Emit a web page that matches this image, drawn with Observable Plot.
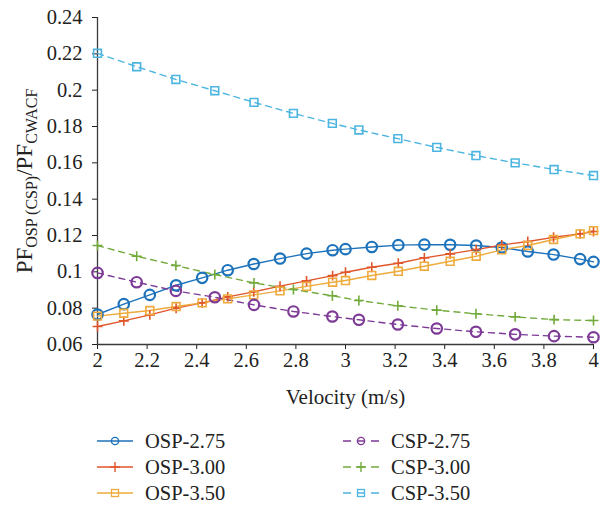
<!DOCTYPE html>
<html><head><meta charset="utf-8">
<script src="https://cdn.jsdelivr.net/npm/d3@7"></script>
<script src="https://cdn.jsdelivr.net/npm/@observablehq/plot@0.6"></script>
<style>
body{margin:0;background:#fff;font-family:"Liberation Serif",serif;color:#222;}
#chart{position:relative;width:600px;height:507px;overflow:hidden;}
.leg{position:absolute;height:26px;display:flex;align-items:center;font-size:20.5px;white-space:nowrap;}
.leg svg{margin-right:12px;}
</style></head><body><div id="chart"></div><script>
// ---- data ----
const xTicks = [2, 2.2, 2.4, 2.6, 2.8, 3, 3.2, 3.4, 3.6, 3.8, 4];
const xTickLabels = ["2", "2.2", "2.4", "2.6", "2.8", "3", "3.2", "3.4", "3.6", "3.8", "4"];
const yTicks = [0.06, 0.08, 0.1, 0.12, 0.14, 0.16, 0.18, 0.2, 0.22, 0.24];
const yTickLabels = ["0.06", "0.08", "0.1", "0.12", "0.14", "0.16", "0.18", "0.2", "0.22", "0.24"];

const ospVelocity = [2, 2.106, 2.211, 2.317, 2.422, 2.525, 2.63, 2.736, 2.843, 2.948, 3, 3.106, 3.213, 3.318, 3.422, 3.527, 3.63, 3.735, 3.839, 3.946, 4];
const osp275 = [0.0765, 0.0822, 0.0873, 0.0926, 0.0967, 0.1009, 0.1043, 0.1073, 0.1100, 0.1119, 0.1125, 0.1137, 0.1147, 0.1150, 0.1149, 0.1145, 0.1134, 0.1112, 0.1095, 0.1070, 0.1055];
const osp300 = [0.0699, 0.0730, 0.0763, 0.0800, 0.0829, 0.0862, 0.0890, 0.0921, 0.0950, 0.0979, 0.0998, 0.1025, 0.1047, 0.1077, 0.1099, 0.1122, 0.1148, 0.1167, 0.1190, 0.1209, 0.1222];
const osp350 = [0.0756, 0.0772, 0.0787, 0.0809, 0.0829, 0.0851, 0.0873, 0.0895, 0.0920, 0.0943, 0.0952, 0.0980, 0.1003, 0.1031, 0.1058, 0.1086, 0.1121, 0.1145, 0.1178, 0.1209, 0.1227];

const cspVelocity = [2, 2.158, 2.316, 2.473, 2.631, 2.79, 2.947, 3.054, 3.211, 3.368, 3.526, 3.684, 3.841, 4];
const csp275 = [0.0994, 0.0943, 0.0895, 0.0860, 0.0818, 0.0782, 0.0754, 0.0736, 0.0710, 0.0688, 0.0670, 0.0656, 0.0646, 0.0640];
const csp300 = [0.1145, 0.1086, 0.1035, 0.0985, 0.0939, 0.0903, 0.0868, 0.0842, 0.0813, 0.0789, 0.0769, 0.0752, 0.0737, 0.0732];
const csp350 = [0.2203, 0.2129, 0.2059, 0.1997, 0.1933, 0.1872, 0.1817, 0.1781, 0.1733, 0.1685, 0.1640, 0.1600, 0.1563, 0.1530];

const seriesNames = ["OSP-2.75", "OSP-3.00", "OSP-3.50", "CSP-2.75", "CSP-3.00", "CSP-3.50"];
const seriesColors = ["#1c72bb", "#e0562a", "#eeaa3c", "#7d3a96", "#72ab3c", "#4cb5e0"];
const seriesSymbols = ["circle", "plus", "square", "circle", "plus", "square"];
const seriesDashed = [false, false, false, true, true, true];

// ---- build table ----
const seriesX = [ospVelocity, ospVelocity, ospVelocity, cspVelocity, cspVelocity, cspVelocity];
const seriesY = [osp275, osp300, osp350, csp275, csp300, csp350];
const rows = [];
seriesNames.forEach((name, s) => seriesX[s].forEach((v, i) => rows.push({series: name, s, v, pf: seriesY[s][i]})));

const symR = {circle: 5.2, plus: 3.3, square: 4.4};
const symW = {circle: 2.2, plus: 1.6, square: 1.6};
const FONT = "'Liberation Serif', serif";

const marks = [
  Plot.ruleX([2], {stroke: "#3a3a3a", strokeWidth: 1.3}),
  Plot.ruleY([0.06], {stroke: "#3a3a3a", strokeWidth: 1.3}),
  Plot.text(xTicks, {x: d => d, frameAnchor: "bottom", dy: 22, text: (d, i) => xTickLabels[i], fill: "#222", fontSize: 20.5, fontFamily: FONT}),
  Plot.text(yTicks, {y: d => d, frameAnchor: "left", dx: -15, textAnchor: "end", text: (d, i) => yTickLabels[i], fill: "#222", fontSize: 20.5, fontFamily: FONT})
];
seriesNames.forEach((name, s) => {
  const d = rows.filter(r => r.s === s);
  marks.push(Plot.line(d, {x: "v", y: "pf", stroke: seriesColors[s], strokeWidth: 1.4, strokeDasharray: seriesDashed[s] ? "6,5" : null}));
});
seriesNames.forEach((name, s) => {
  const d = rows.filter(r => r.s === s);
  const sym = seriesSymbols[s];
  marks.push(Plot.dot(d, {x: "v", y: "pf", symbol: () => sym, r: symR[sym], stroke: seriesColors[s], strokeWidth: symW[sym], fill: "none"}));
});
marks.push(Plot.text(["Velocity (m/s)"], {frameAnchor: "bottom", dy: 59, fill: "#222", fontSize: 21, fontFamily: FONT}));

const plot = Plot.plot({
  width: 600, height: 420,
  marginLeft: 97, marginRight: 7, marginTop: 17, marginBottom: 76,
  style: {background: "white", color: "#222", overflow: "visible", fontFamily: FONT, fontSize: "21px"},
  x: {domain: [2, 4], ticks: xTicks, tickFormat: () => "", tickSize: 5, label: null},
  y: {domain: [0.06, 0.24], ticks: yTicks, tickFormat: () => "", tickSize: 5, label: null},
  symbol: {type: "identity"},
  marks
});

const svg = d3.select(plot);

// y-axis label with subscripts
const t = svg.append("text")
  .attr("transform", "translate(32,181) rotate(-90)")
  .attr("text-anchor", "middle")
  .attr("fill", "#222")
  .style("font-family", FONT)
  .style("font-size", "23px");
t.append("tspan").text("PF");
t.append("tspan").attr("dy", 5).style("font-size", "16px").text("OSP (CSP)");
t.append("tspan").attr("dy", -5).text("/PF");
t.append("tspan").attr("dy", 5).style("font-size", "16px").text("CWACF");

const chart = document.getElementById("chart");
chart.appendChild(plot);

// legend
const legPos = [[97, 428], [97, 454], [97, 480], [343, 428], [343, 454], [343, 480]];
seriesNames.forEach((name, s) => {
  const div = document.createElement("div");
  div.className = "leg";
  div.style.left = legPos[s][0] + "px";
  div.style.top = legPos[s][1] + "px";
  const c = seriesColors[s];
  const sym = seriesSymbols[s];
  let m = "";
  if (sym === "circle") m = `<circle cx="18" cy="13" r="3.6" fill="none" stroke="${c}" stroke-width="1.4"/>`;
  else if (sym === "plus") m = `<path d="M13,13H23M18,8V18" stroke="${c}" stroke-width="1.4"/>`;
  else m = `<rect x="14.5" y="9.5" width="7" height="7" fill="none" stroke="${c}" stroke-width="1.3"/>`;
  const dash = seriesDashed[s] ? ` stroke-dasharray="8,6"` : "";
  div.innerHTML = `<svg width="36" height="26"><line x1="0" y1="13" x2="36" y2="13" stroke="${c}" stroke-width="1.4"${dash}/>${m}</svg><span>${name}</span>`;
  chart.appendChild(div);
});
</script></body></html>
